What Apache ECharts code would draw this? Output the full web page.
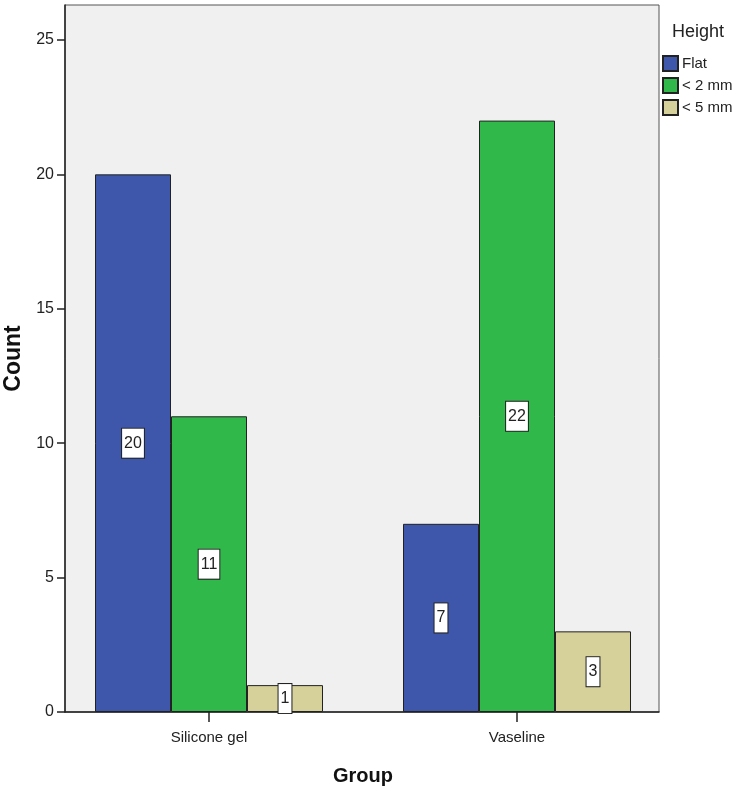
<!DOCTYPE html>
<html>
<head>
<meta charset="utf-8">
<script src="https://cdn.jsdelivr.net/npm/echarts@6/dist/echarts.min.js"></script>
<style>html,body{margin:0;padding:0;background:#fff;}#c{width:735px;height:795px;}</style>
</head>
<body>
<div id="c"></div>
<script>
const categories = ['Silicone gel', 'Vaseline'];
const seriesNames = ['Flat', '< 2 mm', '< 5 mm'];
const flatValues = [20, 7];
const under2Values = [11, 22];
const under5Values = [1, 3];
const yTicks = [0, 5, 10, 15, 20, 25];
const colors = ['#3e57ab', '#30b84a', '#d6d09a'];

const FONT = 'Liberation Sans, Arial, sans-serif';
const YMAX = 26.3;

const chart = echarts.init(document.getElementById('c'), null, {renderer: 'canvas'});

function mk(name, data, color) {
  return {
    name: name, type: 'bar', data: data,
    xAxisIndex: 1, yAxisIndex: 1,
    barWidth: 76, barGap: '0%',
    itemStyle: {color: color, borderColor: '#222', borderWidth: 1},
    label: {
      show: true, position: 'inside',
      backgroundColor: '#fff', borderColor: '#222', borderWidth: 1,
      padding: [7, 2, 6, 2], color: '#222', fontSize: 16, fontFamily: FONT
    },
    emphasis: {disabled: true}
  };
}

chart.setOption({
  animation: false,
  backgroundColor: '#fff',
  title: {text: 'Height', left: 667, top: 18, textStyle: {fontSize: 18, fontWeight: 'normal', color: '#222', fontFamily: FONT}},
  legend: {
    orient: 'vertical', left: 657, top: 50, itemGap: 5,
    itemWidth: 15, itemHeight: 15, icon: 'rect',
    textStyle: {fontSize: 15, color: '#222', fontFamily: FONT, padding: [0, 0, 0, -1]},
    data: seriesNames
  },
  grid: [
    {left: 65, top: 5, width: 594, height: 707, outerBoundsMode: 'none', containLabel: false, show: true, backgroundColor: '#f0f0f0', borderColor: '#555', borderWidth: 1},
    {left: 55, top: 5, width: 616, height: 707, outerBoundsMode: 'none', containLabel: false}
  ],
  xAxis: [
    {gridIndex: 0, type: 'value', min: 0, max: 1, axisLine: {show: true, lineStyle: {color: '#222', width: 1.5}}, axisTick: {show: false}, axisLabel: {show: false}, splitLine: {show: false}},
    {gridIndex: 1, type: 'category', data: categories, axisLine: {show: false},
      axisTick: {show: true, alignWithLabel: true, length: 10, lineStyle: {color: '#222', width: 1.5}},
      axisLabel: {fontSize: 15, color: '#222', fontFamily: FONT, margin: 18},
      name: 'Group', nameLocation: 'middle', nameGap: 54,
      nameTextStyle: {fontSize: 20, fontWeight: 'bold', color: '#111', fontFamily: FONT}}
  ],
  yAxis: [
    {gridIndex: 0, type: 'value', min: 0, max: YMAX, interval: 5,
      axisLine: {show: true, lineStyle: {color: '#222', width: 1.5}},
      axisTick: {show: true, length: 8, customValues: yTicks, lineStyle: {color: '#222', width: 1.5}},
      axisLabel: {fontSize: 16, color: '#222', fontFamily: FONT, margin: 11, customValues: yTicks},
      splitLine: {show: false},
      name: 'Count', nameLocation: 'middle', nameGap: 33,
      nameTextStyle: {fontSize: 23, fontWeight: 'bold', color: '#111', fontFamily: FONT}},
    {gridIndex: 1, type: 'value', min: 0, max: YMAX, show: false, splitLine: {show: false}}
  ],
  series: [
    mk(seriesNames[0], flatValues, colors[0]),
    mk(seriesNames[1], under2Values, colors[1]),
    mk(seriesNames[2], under5Values, colors[2])
  ]
});
</script>
</body>
</html>
